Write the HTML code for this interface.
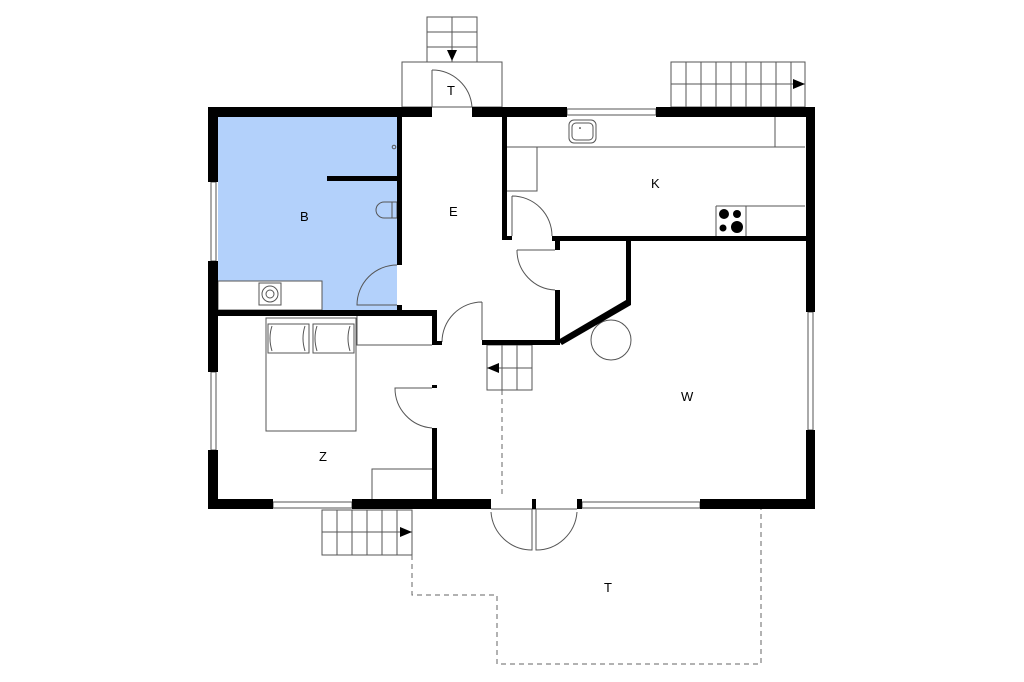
<!DOCTYPE html>
<html><head><meta charset="utf-8"><style>html,body{margin:0;padding:0;background:#fff}svg{display:block}text{font-family:"Liberation Sans",sans-serif;font-size:13px;fill:#000}</style></head><body>
<svg width="1024" height="682" viewBox="0 0 1024 682" xmlns="http://www.w3.org/2000/svg">
<!-- B fill -->
<path d="M218 117 H397 V310 H218 Z" fill="#b3d1fb"/>
<rect x="218" y="281" width="104" height="29" fill="#fff" stroke="#555" stroke-width="1"/>
<g fill="none" stroke="#555" stroke-width="1">
<!-- entrance step T -->
<rect x="427" y="17" width="50" height="45"/>
<line x1="452" y1="17" x2="452" y2="62"/><line x1="427" y1="32" x2="477" y2="32"/><line x1="427" y1="47" x2="477" y2="47"/>
<rect x="402" y="62" width="100" height="45"/>
<line x1="432" y1="70" x2="432" y2="107"/><line x1="432" y1="107" x2="472" y2="107"/>
<path d="M432 70 A40 40 0 0 1 472 107"/>
<!-- top right stairs -->
<rect x="671" y="62" width="134" height="45"/>
<line x1="671" y1="84" x2="805" y2="84"/>
<line x1="686" y1="62" x2="686" y2="107"/><line x1="701" y1="62" x2="701" y2="107"/><line x1="716" y1="62" x2="716" y2="107"/><line x1="731" y1="62" x2="731" y2="107"/><line x1="746" y1="62" x2="746" y2="107"/><line x1="761" y1="62" x2="761" y2="107"/><line x1="776" y1="62" x2="776" y2="107"/><line x1="791" y1="62" x2="791" y2="107"/>
<!-- kitchen counters -->
<path d="M507 147 H537 V191 H507"/>
<path d="M537 147 H805"/>
<line x1="775" y1="117" x2="775" y2="147"/>
<rect x="569" y="120" width="27" height="23" rx="5"/>
<rect x="572" y="123" width="21" height="17" rx="4"/>
<path d="M716 206 H805 M716 206 V236 M746 206 V236"/>
<!-- doors -->
<path d="M512 196 A40 40 0 0 1 552 236 M512 196 V236"/>
<path d="M517 250 H555 M517 250 A40 40 0 0 0 555 290"/>
<path d="M397 265 A40 40 0 0 0 357 305 H397"/>
<path d="M482 302 A40 40 0 0 0 442 342 M482 302 V340"/>
<path d="M432 388 H395 A40 40 0 0 0 432 428"/>
<path d="M491 512 A41 41 0 0 0 532 550 V509 M491 509 H577 M577 512 A41 41 0 0 1 536 550 V509"/>
<circle cx="611" cy="340" r="20"/>
<!-- inner stairs -->
<rect x="487" y="345" width="45" height="45"/>
<line x1="502" y1="345" x2="502" y2="390"/><line x1="517" y1="345" x2="517" y2="390"/><line x1="487" y1="368" x2="532" y2="368"/>
<!-- bed -->
<rect x="266" y="318" width="90" height="113"/>
<rect x="268" y="324" width="41" height="29"/><rect x="313" y="324" width="41" height="29"/>
<path d="M272 326 Q268 338 272 351 M305 326 Q301 338 305 351 M317 326 Q313 338 317 351 M350 326 Q346 338 350 351"/>
<path d="M357 316 V345 H432"/>
<path d="M372 499 V469 H432"/>
<!-- B fixtures -->
<rect x="259" y="283" width="22" height="22"/>
<circle cx="270" cy="294" r="8"/><circle cx="270" cy="294" r="4"/>
<path d="M392 202 H384 A8 8 0 0 0 384 218 H392"/>
<rect x="392" y="202" width="5" height="16"/>
<circle cx="394" cy="147" r="1.8"/>
<!-- bottom left stairs -->
<rect x="322" y="510" width="90" height="45"/>
<line x1="322" y1="532" x2="412" y2="532"/>
<line x1="337" y1="510" x2="337" y2="555"/><line x1="352" y1="510" x2="352" y2="555"/><line x1="367" y1="510" x2="367" y2="555"/><line x1="382" y1="510" x2="382" y2="555"/><line x1="397" y1="510" x2="397" y2="555"/>
<!-- windows -->
<rect x="567" y="109" width="89" height="6"/><rect x="211" y="182" width="5" height="79"/><rect x="211" y="372" width="5" height="78"/>
<rect x="273" y="502" width="79" height="6"/><rect x="582" y="502" width="118" height="6"/><rect x="808" y="312" width="5" height="118"/>
</g>
<g stroke="#666" stroke-width="1" stroke-dasharray="5,4" fill="none">
<path d="M502 390 V497"/>
<path d="M412 555 V595 H497 V664 H761 V509"/>
</g>
<g fill="#000">
<!-- outer walls -->
<rect x="208" y="107" width="224" height="10"/><rect x="472" y="107" width="95" height="10"/><rect x="656" y="107" width="159" height="10"/>
<rect x="208" y="107" width="10" height="75"/><rect x="208" y="261" width="10" height="111"/><rect x="208" y="450" width="10" height="59"/>
<rect x="806" y="107" width="9" height="205"/><rect x="806" y="430" width="9" height="79"/>
<rect x="208" y="499" width="65" height="10"/><rect x="352" y="499" width="139" height="10"/><rect x="532" y="499" width="4" height="10"/><rect x="577" y="499" width="5" height="10"/><rect x="700" y="499" width="115" height="10"/>
<!-- inner -->
<rect x="397" y="117" width="5" height="148"/><rect x="397" y="305" width="5" height="7"/>
<rect x="327" y="176" width="70" height="5"/>
<rect x="218" y="310" width="219" height="6"/>
<rect x="432" y="310" width="5" height="35"/><rect x="437" y="341" width="5" height="4"/><rect x="432" y="385" width="5" height="3"/><rect x="432" y="428" width="5" height="71"/>
<rect x="502" y="117" width="5" height="123"/><rect x="507" y="236" width="5" height="4"/>
<rect x="552" y="236" width="254" height="5"/>
<rect x="555" y="236" width="5" height="14"/><rect x="555" y="290" width="5" height="55"/>
<rect x="626" y="236" width="5" height="69"/>
<path d="M626 300 L631 305 L562 345 L558 340 Z"/>
<rect x="482" y="340" width="78" height="5"/>
<!-- burners -->
<circle cx="724" cy="214" r="5"/><circle cx="737" cy="214" r="4"/><circle cx="723" cy="228" r="3.5"/><circle cx="737" cy="227" r="6"/>
<circle cx="580" cy="128" r="0.8"/>
<!-- arrows -->
<path d="M447 50 H457 L452 61 Z"/><path d="M793 79 L805 84 L793 89 Z"/><path d="M499 363 L487 368 L499 373 Z"/><path d="M400 527 L412 532 L400 537 Z"/>
</g>
<text x="447" y="95">T</text><text x="300" y="221">B</text><text x="449" y="216">E</text><text x="651" y="188">K</text><text x="681" y="401">W</text><text x="319" y="461">Z</text><text x="604" y="592">T</text>
</svg>
</body></html>
